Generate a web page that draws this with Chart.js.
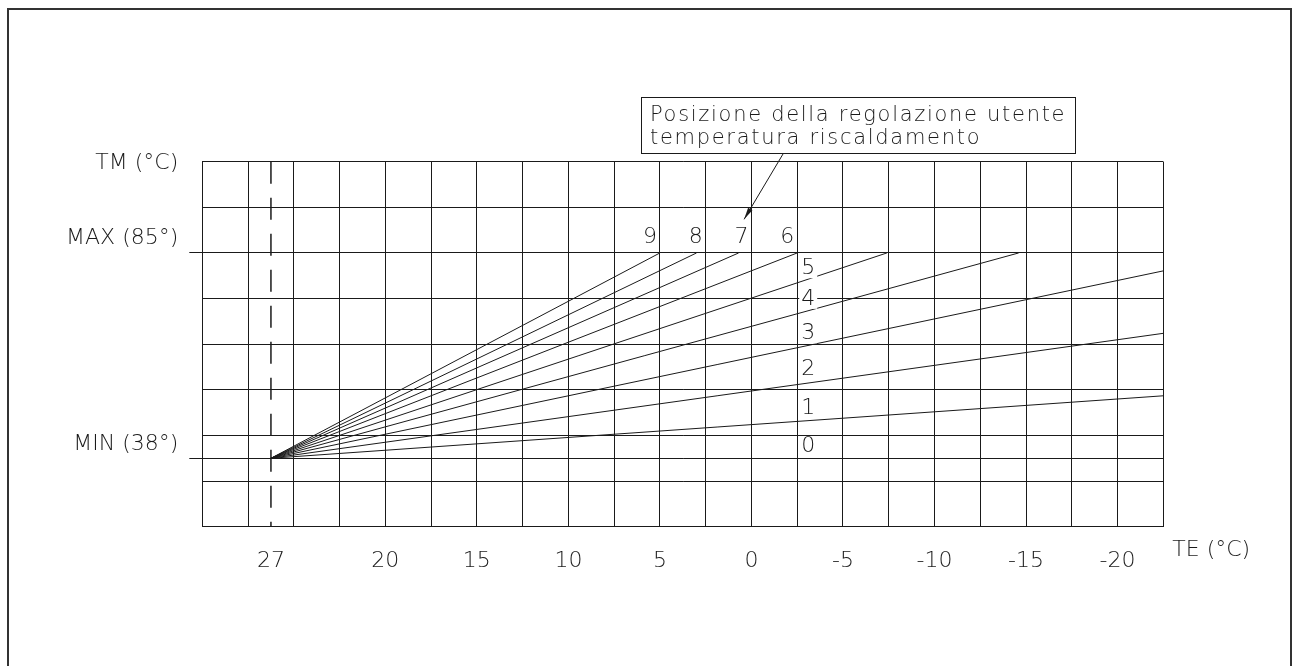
<!DOCTYPE html>
<html>
<head>
<meta charset="utf-8">
<title>Curve di riscaldamento</title>
<script src="https://cdn.jsdelivr.net/npm/chart.js@4.4.1/dist/chart.umd.min.js"></script>
<style>
  html, body { margin: 0; padding: 0; background: #fff; }
  #wrap { width: 1300px; height: 666px; position: relative; }
</style>
</head>
<body>
<div id="wrap"><canvas id="myChart"></canvas></div>
<script>
// knob positions 1..9 : every line starts at the same point and ends here
const curveIds   = ['1', '2', '3', '4', '5', '6', '7', '8', '9'];
const curveEndTE = [-22.5, -22.5, -22.5, -14.6, -7.4, -2.5, 0.7, 3.0, 5.0];
const curveEndTM = [52.3, 66.6, 80.9, 85, 85, 85, 85, 85, 85];
// common start, on the dashed line labelled "27"
const originTE = 26.25;
const originTM = 38;

// outside temperature axis (reversed)
const teMin = -22.5, teMax = 30, teStep = 2.5;
const teTickValues = [26.25, 20, 15, 10, 5, 0, -5, -10, -15, -20];
const teTickText   = ['27', '20', '15', '10', '5', '0', '-5', '-10', '-15', '-20'];

// flow temperature axis
const tmMin = 38, tmMax = 85;
const tmStep = (tmMax - tmMin) / 4.5;
const tmLow = tmMin - 1.5 * tmStep;
const tmHigh = tmMax + 2 * tmStep;
const tmTickText = ['TM (°C)', 'MAX (85°)', 'MIN (38°)'];

const calloutText = ['Posizione della regolazione utente', 'temperatura riscaldamento'];

const FONT = 'DejaVu Sans';
const INK = '#1a1a1a';

function near(a, b) { return Math.abs(a - b) < 1e-6; }

// label-only ticks on the y axis (text sits a bit above the MAX / MIN lines)
const tmLabelValues = [tmHigh - 0.46, tmMax + 3.3, tmMin + 3.3];

const datasets = curveIds.map((id, i) => ({
  label: 'Posizione ' + id,
  data: [{ x: originTE, y: originTM }, { x: curveEndTE[i], y: curveEndTM[i] }],
  borderColor: INK,
  borderWidth: 1,
  pointRadius: 0,
  showLine: true,
  fill: false
}));
datasets.push({
  label: 'TE 27',
  data: [{ x: originTE, y: tmHigh }, { x: originTE, y: tmLow }],
  borderColor: INK,
  borderWidth: 1.5,
  borderDash: [22, 14],
  pointRadius: 0,
  showLine: true,
  fill: false
});

const drawingPlugin = {
  id: 'drawing',
  beforeDraw(chart) {
    const ctx = chart.ctx;
    ctx.save();
    ctx.fillStyle = '#fff';
    ctx.fillRect(0, 0, chart.width, chart.height);
    ctx.strokeStyle = '#333';
    ctx.lineWidth = 2;
    ctx.strokeRect(8, 9, 1283, 700);
    ctx.restore();
  },
  afterDatasetsDraw(chart) {
    const ctx = chart.ctx;
    const xs = chart.scales.x, ys = chart.scales.y;
    ctx.save();
    ctx.font = '300 22px "' + FONT + '"';
    ctx.fillStyle = INK;
    ctx.textAlign = 'center';
    ctx.textBaseline = 'middle';

    // 9 8 7 6 above the MAX line
    const topAt = [5, 2.5, 0, -2.5];
    ['9', '8', '7', '6'].forEach((t, i) => {
      ctx.fillText(t, xs.getPixelForValue(topAt[i]) - 10, ys.getPixelForValue(tmMax) - 16);
    });
    // 5 .. 0 along the -2.5 column
    const sideAt = [81.5, 74.5, 66.6, 58.4, 49.4, 40.7];
    ['5', '4', '3', '2', '1', '0'].forEach((t, i) => {
      const x = xs.getPixelForValue(-2.5) + 11;
      const y = ys.getPixelForValue(sideAt[i]);
      ctx.fillStyle = '#fff';
      ctx.fillRect(x - 9, y - 10, 18, 20);
      ctx.fillStyle = INK;
      ctx.fillText(t, x, y);
    });

    // axis name on the right of the TE labels
    ctx.textAlign = 'left';
    ctx.fillText('TE (°C)', xs.right + 9, 550);

    // callout box
    ctx.strokeStyle = INK;
    ctx.lineWidth = 1;
    ctx.strokeRect(641.5, 97.5, 434, 56);
    ctx.font = '300 21px "' + FONT + '"';
    ctx.letterSpacing = '1.7px';
    ctx.textBaseline = 'alphabetic';
    ctx.fillText(calloutText[0], 650, 121);
    ctx.fillText(calloutText[1], 650, 144);
    ctx.letterSpacing = '0px';

    // leader with arrow head pointing at curve 7
    const x0 = 783, y0 = 154;
    const x1 = xs.getPixelForValue(0.4), y1 = ys.getPixelForValue(92.7);
    ctx.beginPath();
    ctx.moveTo(x0, y0);
    ctx.lineTo(x1, y1);
    ctx.stroke();
    const a = Math.atan2(y1 - y0, x1 - x0);
    ctx.beginPath();
    ctx.moveTo(x1, y1);
    ctx.lineTo(x1 - 12 * Math.cos(a) + 2.5 * Math.sin(a), y1 - 12 * Math.sin(a) - 2.5 * Math.cos(a));
    ctx.lineTo(x1 - 12 * Math.cos(a) - 2.5 * Math.sin(a), y1 - 12 * Math.sin(a) + 2.5 * Math.cos(a));
    ctx.closePath();
    ctx.fill();
    ctx.restore();
  }
};

const ctx = document.getElementById('myChart').getContext('2d');
const myChart = new Chart(ctx, {
  type: 'scatter',
  data: { datasets },
  plugins: [drawingPlugin],
  options: {
    responsive: true,
    maintainAspectRatio: false,
    animation: false,
    layout: { padding: { top: 161.7, right: 136.7, bottom: 0, left: 0 } },
    plugins: { legend: { display: false }, tooltip: { enabled: false } },
    scales: {
      x: {
        type: 'linear',
        reverse: true,
        min: teMin,
        max: teMax,
        afterBuildTicks: (scale) => {
          const ticks = [];
          for (let v = teMax; v >= teMin - 1e-9; v -= teStep) ticks.push({ value: v });
          ticks.push({ value: teTickValues[0] });
          scale.ticks = ticks;
        },
        afterFit: (scale) => { scale.height = 139.3; },
        grid: {
          color: (c) => (c.tick && near(c.tick.value, teTickValues[0])) ? 'rgba(0,0,0,0)' : INK,
          lineWidth: 1,
          drawTicks: false
        },
        border: { display: true, color: INK, width: 1 },
        ticks: {
          autoSkip: false,
          maxRotation: 0,
          padding: 21,
          color: INK,
          font: { family: FONT, size: 22, weight: '300' },
          callback: (value) => {
            const i = teTickValues.findIndex(v => near(v, value));
            return i >= 0 ? teTickText[i] : '';
          }
        }
      },
      y: {
        type: 'linear',
        min: tmLow,
        max: tmHigh,
        afterBuildTicks: (scale) => {
          const ticks = [];
          for (let k = 0; k <= 8; k++) ticks.push({ value: tmLow + k * tmStep });
          ticks.push({ value: tmMin });
          tmLabelValues.forEach(v => ticks.push({ value: v }));
          ticks.sort((a, b) => a.value - b.value);
          scale.ticks = ticks;
        },
        afterFit: (scale) => { scale.width = 202.3; },
        grid: {
          color: (c) => (c.tick && tmLabelValues.some(v => near(v, c.tick.value))) ? 'rgba(0,0,0,0)' : INK,
          tickColor: (c) => (c.tick && (near(c.tick.value, tmMin) || near(c.tick.value, tmMax))) ? INK : 'rgba(0,0,0,0)',
          tickLength: 13,
          lineWidth: 1
        },
        border: { display: true, color: INK, width: 1 },
        ticks: {
          autoSkip: false,
          padding: 11,
          color: INK,
          font: { family: FONT, size: 22, weight: '300' },
          callback: (value) => {
            const i = tmLabelValues.findIndex(v => near(v, value));
            return i >= 0 ? tmTickText[i] : '';
          }
        }
      }
    }
  }
});
</script>
</body>
</html>
